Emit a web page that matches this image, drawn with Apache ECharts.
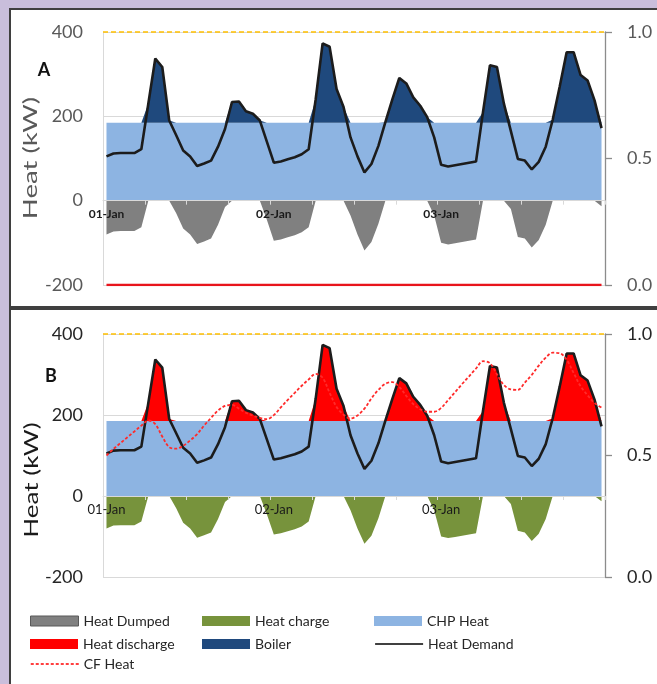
<!DOCTYPE html>
<html><head><meta charset="utf-8">
<script src="https://cdn.jsdelivr.net/npm/echarts@6/dist/echarts.min.js"></script>
<style>
html,body{margin:0;padding:0;background:#c9bedb;width:657px;height:684px;overflow:hidden;}
.panel{position:absolute;left:9px;width:660px;background:#fff;border:2px solid #3f3f3f;box-sizing:border-box;}
#pa{top:8px;height:300px;}
#pb{top:308px;height:400px;}
#chart{position:absolute;left:0;top:0;width:657px;height:684px;}
</style></head>
<body>
<div class="panel" id="pa"></div><div class="panel" id="pb"></div>
<div id="chart"></div>
<script>
// ---- data (hourly, 3 days) ----
const days = ['01-Jan', '02-Jan', '03-Jan'];
const heatTicks = [-200, 0, 200, 400];
const cfTicks = [0.0, 0.5, 1.0];

const heatDemand = [
  105,112,113,113,113,122,230,337,317,190,155,119,
  105, 82, 88, 95,128,170,234,235,212,206,190,140,
   90, 93, 98,103,110,122,240,373,365,265,222,150,
  105, 67, 87,130,186,240,291,278,245,225,198,150,
   85, 81, 84, 87, 90, 93,210,321,317,230,165, 99,
   95, 74, 92,128,192,270,352,352,298,285,238,172
];
const chpHeat = [
  185,185,185,185,185,185,185,185,185,185,185,185,
  185,185,185,185,185,185,185,185,185,185,185,185,
  185,185,185,185,185,185,185,185,185,185,185,185,
  185,185,185,185,185,185,185,185,185,185,185,185,
  185,185,185,185,185,185,185,185,185,185,185,185,
  185,185,185,185,185,185,185,185,185,185,185,185
];
// panel A: boiler top-up and dumped heat
const boiler = [
    0,  0,  0,  0,  0,  0, 45,152,132,  5,  0,  0,
    0,  0,  0,  0,  0,  0, 49, 50, 27, 21,  5,  0,
    0,  0,  0,  0,  0,  0, 55,188,180, 80, 37,  0,
    0,  0,  0,  0,  1, 55,106, 93, 60, 40, 13,  0,
    0,  0,  0,  0,  0,  0, 25,136,132, 45,  0,  0,
    0,  0,  0,  0,  7, 85,167,167,113,100, 53,  0
];
const heatDumped = [
  -80,-73,-72,-72,-72,-63,  0,  0,  0,  0,-30,-66,
  -80,-103,-97,-90,-57,-15, 0,  0,  0,  0,  0,-45,
  -95,-92,-87,-82,-75,-63,  0,  0,  0,  0,  0,-35,
  -80,-118,-98,-55, 0,  0,  0,  0,  0,  0,  0,-35,
 -100,-104,-101,-98,-95,-92, 0,  0,  0,  0,-20,-86,
  -90,-111,-93,-57, 0,  0,  0,  0,  0,  0,  0,-13
];
const cfHeatA = [
  0,0,0,0,0,0,0,0,0,0,0,0, 0,0,0,0,0,0,0,0,0,0,0,0,
  0,0,0,0,0,0,0,0,0,0,0,0, 0,0,0,0,0,0,0,0,0,0,0,0,
  0,0,0,0,0,0,0,0,0,0,0,0, 0,0,0,0,0,0,0,0,0,0,0,0
];
// panel B: storage discharge / charge and state of charge
const heatDischarge = [
    0,  0,  0,  0,  0,  0, 45,152,132,  5,  0,  0,
    0,  0,  0,  0,  0,  0, 49, 50, 27, 21,  5,  0,
    0,  0,  0,  0,  0,  0, 55,188,180, 80, 37,  0,
    0,  0,  0,  0,  1, 55,106, 93, 60, 40, 13,  0,
    0,  0,  0,  0,  0,  0, 25,136,132, 45,  0,  0,
    0,  0,  0,  0,  7, 85,167,167,113,100, 53,  0
];
const heatCharge = [
  -80,-73,-72,-72,-72,-63,  0,  0,  0,  0,-30,-66,
  -80,-103,-97,-90,-57,-15, 0,  0,  0,  0,  0,-45,
  -95,-92,-87,-82,-75,-63,  0,  0,  0,  0,  0,-35,
  -80,-118,-98,-55, 0,  0,  0,  0,  0,  0,  0,-35,
 -100,-104,-101,-98,-95,-92, 0,  0,  0,  0,-20,-86,
  -90,-111,-93,-57, 0,  0,  0,  0,  0,  0,  0,-13
];
const cfHeatB = [
  0.500,0.527,0.551,0.575,0.599,0.623,0.644,0.629,0.578,0.534,0.528,0.540,
  0.562,0.588,0.623,0.655,0.685,0.704,0.708,0.693,0.676,0.664,0.655,0.650,
  0.666,0.698,0.729,0.758,0.787,0.813,0.836,0.820,0.758,0.700,0.668,0.652,
  0.665,0.693,0.735,0.770,0.795,0.802,0.782,0.745,0.712,0.690,0.680,0.680,
  0.696,0.728,0.761,0.794,0.826,0.858,0.888,0.880,0.834,0.790,0.772,0.770,
  0.800,0.832,0.870,0.903,0.923,0.921,0.894,0.840,0.785,0.748,0.716,0.697
];
const storageFull = [1.0];

// ---- build ----
const hours = [];
days.forEach(d => { for (let h = 0; h < 24; h++) hours.push(d + ' ' + String(h).padStart(2, '0') + ':00'); });

const FONT = 'Lato';
const C = { chp: '#8db4e2', boiler: '#1f497d', dumped: '#808080', charge: '#77933c', discharge: '#ff0000', demand: '#1c1c1c', cf: '#ff2a2a', cap: '#ffc000' };
const GRID_A = { left: 103, right: 52, top: 32, height: 253 };
const GRID_B = { left: 103, right: 52, top: 334, height: 243 };
// share of the plot height that lies below the zero line
const belowZero = (0 - heatTicks[0]) / (heatTicks[heatTicks.length - 1] - heatTicks[0]);

function xAxisFor(grid, gridBox, bold, size) {
  return {
    gridIndex: grid, type: 'category', data: hours, boundaryGap: true, z: 10, position: 'bottom',
    offset: -gridBox.height * belowZero,
    axisLine: { onZero: false, lineStyle: { color: '#d9d9d9', width: 1 } },
    axisTick: { show: true, interval: 5, length: 4, lineStyle: { color: '#d9d9d9' } },
    axisLabel: { interval: 23, formatter: v => v.split(' ')[0], fontFamily: FONT, fontSize: size,
      fontWeight: bold ? 'bold' : 'normal', color: '#1a1a1a', margin: 7 },
    splitLine: { show: false }
  };
}
function leftAxis(grid, color) {
  return {
    gridIndex: grid, type: 'value', position: 'left',
    min: heatTicks[0], max: heatTicks[heatTicks.length - 1], interval: heatTicks[1] - heatTicks[0],
    axisLine: { show: true, onZero: false, lineStyle: { color: '#d9d9d9' } }, axisTick: { show: false },
    splitLine: { show: true, lineStyle: { color: '#d9d9d9', width: 1 } },
    axisLabel: { fontFamily: FONT, fontSize: 18, color: color, margin: 20 }
  };
}
function rightAxis(grid, color) {
  return {
    gridIndex: grid, type: 'value', position: 'right',
    min: cfTicks[0], max: cfTicks[cfTicks.length - 1], interval: cfTicks[1] - cfTicks[0],
    axisLine: { show: true, onZero: false, lineStyle: { color: '#8c8c8c', width: 1.3 } },
    axisTick: { show: true, length: 7, lineStyle: { color: '#8c8c8c', width: 1.3 } },
    splitLine: { show: false },
    axisLabel: { fontFamily: FONT, fontSize: 18, color: color, margin: 22, formatter: v => v.toFixed(1) }
  };
}
function area(name, grid, data, color, stack, z) {
  const s = { name, type: 'line', xAxisIndex: grid, yAxisIndex: grid * 2, data, symbol: 'none',
    lineStyle: { width: 0 }, itemStyle: { color }, areaStyle: { color, opacity: 1 }, z: z, silent: true };
  if (stack) s.stack = stack;
  return s;
}
function demandLine(grid) {
  return { name: 'Heat Demand', type: 'line', xAxisIndex: grid, yAxisIndex: grid * 2, data: heatDemand,
    symbol: 'none', lineStyle: { color: C.demand, width: 2.6 }, itemStyle: { color: C.demand }, z: 6 };
}
function capMark() {
  return { silent: true, symbol: 'none', label: { show: false },
    lineStyle: { color: C.cap, type: [5, 3], width: 1.5 }, data: [{ yAxis: storageFull[0] }] };
}

const series = [
  // panel B first (legend picks first series of a name)
  area('CHP Heat', 1, chpHeat, C.chp, 'B', 2),
  area('Heat discharge', 1, heatDischarge, C.discharge, 'B', 3),
  area('Heat charge', 1, heatCharge, C.charge, null, 3),
  demandLine(1),
  { name: 'CF Heat', type: 'line', xAxisIndex: 1, yAxisIndex: 3, data: cfHeatB, symbol: 'none', smooth: 0.35,
    lineStyle: { color: C.cf, width: 1.8, type: [3, 2] }, itemStyle: { color: C.cf }, z: 7, markLine: capMark() },
  // panel A
  area('CHP Heat', 0, chpHeat, C.chp, 'A', 2),
  area('Boiler', 0, boiler, C.boiler, 'A', 3),
  area('Heat Dumped', 0, heatDumped, C.dumped, null, 3),
  demandLine(0),
  { name: 'CF Heat', type: 'line', xAxisIndex: 0, yAxisIndex: 1, data: cfHeatA, symbol: 'none',
    lineStyle: { color: '#e8141c', width: 2.6 }, itemStyle: { color: C.cf }, z: 7, markLine: capMark() }
];

function leg(name, left, top, extra) {
  return Object.assign({ data: [name], left, top, padding: 0, itemWidth: 48, itemHeight: 10, icon: 'rect',
    selectedMode: false, textStyle: { fontFamily: FONT, fontSize: 14, color: '#262626' } }, extra || {});
}
const legends = [
  leg('Heat Dumped', 30, 614, { itemStyle: { borderColor: '#595959', borderWidth: 1 } }),
  leg('Heat charge', 202, 614),
  leg('CHP Heat', 374, 614),
  leg('Heat discharge', 30, 637),
  leg('Boiler', 202, 637),
  leg('Heat Demand', 374, 637, { icon: null, itemStyle: { opacity: 0, borderWidth: 0 }, lineStyle: { width: 2.2, color: '#404040' } }),
  leg('CF Heat', 30, 657, { icon: null, itemStyle: { opacity: 0, borderWidth: 0 }, lineStyle: { width: 1.5, color: '#ff0000', type: [3, 2] } })
];
legends.forEach(l => { if (l.icon === null) delete l.icon; });

const option = {
  animation: false,
  backgroundColor: 'transparent',
  grid: [
    Object.assign({ outerBoundsMode: 'none', containLabel: false }, GRID_A),
    Object.assign({ outerBoundsMode: 'none', containLabel: false }, GRID_B)
  ],
  xAxis: [xAxisFor(0, GRID_A, true, 12), xAxisFor(1, GRID_B, false, 13)],
  yAxis: [leftAxis(0, '#595959'), rightAxis(0, '#595959'), leftAxis(1, '#262626'), rightAxis(1, '#262626')],
  legend: legends,
  series: series,
  graphic: [
    { type: 'text', x: 44, y: 70, z: 100, style: { text: 'A', fontFamily: FONT, fontSize: 18, fontWeight: 'bold', fill: '#111', align: 'center', verticalAlign: 'middle' } },
    { type: 'text', x: 51, y: 376, z: 100, style: { text: 'B', fontFamily: FONT, fontSize: 18, fontWeight: 'bold', fill: '#111', align: 'center', verticalAlign: 'middle' } },
    { type: 'text', x: 31, y: 158, rotation: Math.PI / 2, scaleX: 1.45, z: 100, style: { text: 'Heat (kW)', fontFamily: FONT, fontSize: 19, fill: '#595959', align: 'center', verticalAlign: 'middle' } },
    { type: 'text', x: 32, y: 480, rotation: Math.PI / 2, scaleX: 1.3, z: 100, style: { text: 'Heat (kW)', fontFamily: FONT, fontSize: 20, fill: '#1a1a1a', align: 'center', verticalAlign: 'middle' } }
  ]
};

const chart = echarts.init(document.getElementById('chart'), null, { renderer: 'canvas' });
chart.setOption(option);
</script>
</body></html>
